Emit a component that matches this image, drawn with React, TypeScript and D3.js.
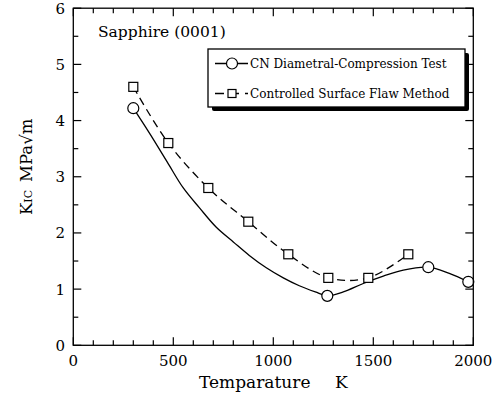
import React from 'react';
import * as d3 from 'd3';

// axis ticks
const xMajor = [0, 500, 1000, 1500, 2000];
const yMajor = [0, 1, 2, 3, 4, 5, 6];

// CN Diametral-Compression Test (circles) + the drawn fit curve
const cnTemp = [300, 1270, 1775, 1975];
const cnKic = [4.22, 0.88, 1.39, 1.13];
const cnFitTemp = [300, 380, 470, 550, 630, 715, 800, 880, 965, 1050, 1130, 1210, 1270, 1350, 1450, 1550, 1650, 1775, 1880, 1975];
const cnFitKic = [4.22, 3.78, 3.26, 2.8, 2.45, 2.1, 1.84, 1.6, 1.38, 1.2, 1.06, 0.95, 0.88, 0.95, 1.1, 1.23, 1.34, 1.39, 1.28, 1.13];

// Controlled Surface Flaw Method (squares)
const csfTemp = [300, 475, 675, 875, 1075, 1275, 1475, 1675];
const csfKic = [4.6, 3.6, 2.8, 2.2, 1.62, 1.2, 1.2, 1.62];

const W = 500;
const H = 396;
// only serif face available in the sandbox
const font = 'DejaVu Serif';

const App: React.FC = () => {
  const x = d3.scaleLinear().domain([0, 2000]).range([73.3, 473.3]);
  const y = d3.scaleLinear().domain([0, 6]).range([345.3, 8.2]);
  const [x0, x1] = x.range();
  const [y0, y1] = y.range();

  const xMinor = d3.range(0, 2001, 100).filter(v => v % 500 !== 0);
  const yMinor = d3.range(0.5, 6, 1);

  const cnFit = cnFitTemp.map((t, i) => [t, cnFitKic[i]] as [number, number]);
  const csf = csfTemp.map((t, i) => [t, csfKic[i]] as [number, number]);

  const line = d3.line<[number, number]>()
    .x(d => x(d[0]))
    .y(d => y(d[1]))
    .curve(d3.curveCatmullRom.alpha(0.5));

  const lg = { x: 208, y: 49, w: 257, h: 58 };

  return (
    <svg width={W} height={H} style={{ position: 'absolute', left: 0, top: 0, background: '#fff' }} fontFamily={font}>
      {/* curves */}
      <path d={line(cnFit) || ''} fill="none" stroke="#000" strokeWidth={1.3} />
      <path d={line(csf) || ''} fill="none" stroke="#000" strokeWidth={1.3} strokeDasharray="8,5" />

      {csf.map((d, i) => (
        <rect key={'s' + i} x={x(d[0]) - 4.5} y={y(d[1]) - 4.5} width={9} height={9} fill="#fff" stroke="#000" strokeWidth={1.2} />
      ))}
      {cnTemp.map((t, i) => (
        <circle key={'c' + i} cx={x(t)} cy={y(cnKic[i])} r={5.5} fill="#fff" stroke="#000" strokeWidth={1.2} />
      ))}

      {/* frame */}
      <rect x={x0} y={y1} width={x1 - x0} height={y0 - y1} fill="none" stroke="#000" strokeWidth={1.3} />

      {/* x ticks bottom + top */}
      {xMajor.map(v => (
        <g key={'xm' + v}>
          <line x1={x(v)} x2={x(v)} y1={y0} y2={y0 - 8} stroke="#000" strokeWidth={1.2} />
          <line x1={x(v)} x2={x(v)} y1={y1} y2={y1 + 8} stroke="#000" strokeWidth={1.2} />
          <text x={x(v)} y={y0 + 21} textAnchor="middle" fontSize={15}>{v}</text>
        </g>
      ))}
      {xMinor.map(v => (
        <g key={'xn' + v}>
          <line x1={x(v)} x2={x(v)} y1={y0} y2={y0 - 5} stroke="#000" strokeWidth={1.2} />
          <line x1={x(v)} x2={x(v)} y1={y1} y2={y1 + 5} stroke="#000" strokeWidth={1.2} />
        </g>
      ))}

      {/* y ticks left + right */}
      {yMajor.map(v => (
        <g key={'ym' + v}>
          <line x1={x0} x2={x0 + 8} y1={y(v)} y2={y(v)} stroke="#000" strokeWidth={1.2} />
          <line x1={x1} x2={x1 - 8} y1={y(v)} y2={y(v)} stroke="#000" strokeWidth={1.2} />
          <text x={65} y={y(v) + 5.5} textAnchor="end" fontSize={15}>{v}</text>
        </g>
      ))}
      {yMinor.map(v => (
        <g key={'yn' + v}>
          <line x1={x0} x2={x0 + 5} y1={y(v)} y2={y(v)} stroke="#000" strokeWidth={1.2} />
          <line x1={x1} x2={x1 - 5} y1={y(v)} y2={y(v)} stroke="#000" strokeWidth={1.2} />
        </g>
      ))}

      {/* axis titles */}
      <text x={199} y={388} fontSize={17}>Temparature</text>
      <text x={335} y={388} fontSize={17}>K</text>
      <text transform="translate(32,215) rotate(-90)" fontSize={16.5}>
        <tspan>K</tspan>
        <tspan fontSize={11}>IC</tspan>
        <tspan dx={8}>MPa</tspan>
        <tspan>√m</tspan>
      </text>

      <text x={98} y={37} fontSize={15.5}>Sapphire (0001)</text>

      {/* legend */}
      <rect x={lg.x + 4} y={lg.y + 4} width={lg.w} height={lg.h} fill="#000" rx={2} />
      <rect x={lg.x} y={lg.y} width={lg.w} height={lg.h} fill="#fff" stroke="#000" strokeWidth={1.3} />
      <line x1={215} x2={248} y1={63.5} y2={63.5} stroke="#000" strokeWidth={1.3} />
      <circle cx={232} cy={63.5} r={5.5} fill="#fff" stroke="#000" strokeWidth={1.2} />
      <text x={250} y={68} fontSize={12}>CN Diametral-Compression Test</text>
      <line x1={215} x2={248} y1={93.5} y2={93.5} stroke="#000" strokeWidth={1.3} strokeDasharray="9,6" />
      <rect x={228} y={89.5} width={8} height={8} fill="#fff" stroke="#000" strokeWidth={1.2} />
      <text x={250} y={98} fontSize={12}>Controlled Surface Flaw Method</text>
    </svg>
  );
};

export default App;
